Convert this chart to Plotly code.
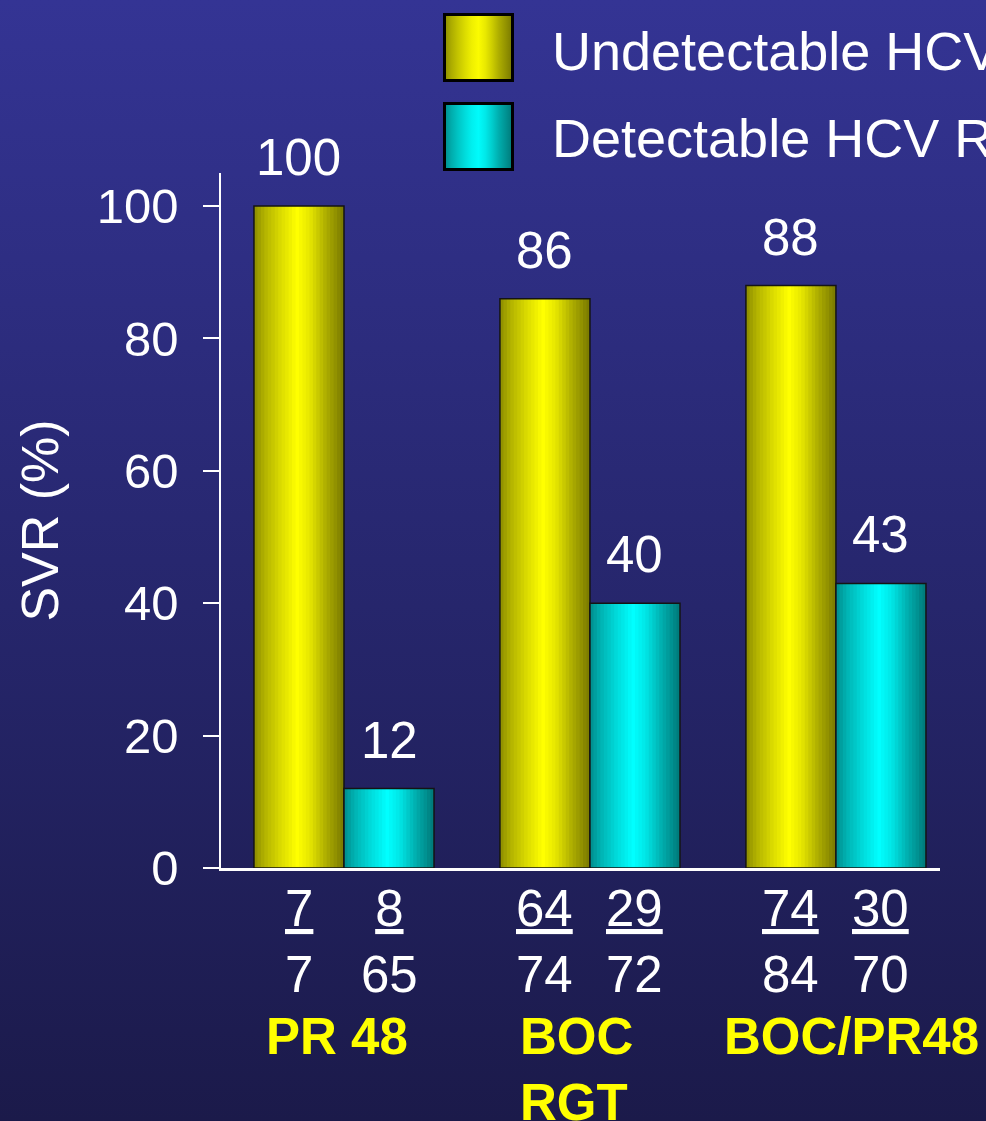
import base64
import numpy as np
import plotly.graph_objects as go

# ---------------- data ----------------
categories = ["PR 48", "BOC RGT", "BOC/PR48"]
group_labels = ["PR 48", "BOC<br>RGT", "BOC/PR48"]
series_names = ["Undetectable HCV RNA", "Detectable HCV RNA"]
svr_undetectable = [100, 86, 88]
svr_detectable = [12, 40, 43]
resp_undetectable = [7, 64, 74]
total_undetectable = [7, 74, 84]
resp_detectable = [8, 29, 30]
total_detectable = [65, 72, 70]
y_ticks = [0, 20, 40, 60, 80, 100]

# ---------------- geometry / style ----------------
W_FIG, H_FIG = 986, 1121
ML, MR, MT, MB = 221, 46, 173, 253
PW = W_FIG - ML - MR
PH = H_FIG - MT - MB
FONT = "Liberation Sans, Arial, sans-serif"
BAR_W = 0.366
N_STRIPS = 26
YMAX = 105


def px_x(px):
    return (px - ML) / PW


def px_y(py):
    return (H_FIG - MB - py) / PH


def shade(rgb, t):
    tp = [0.0, 0.12, 0.3, 0.48, 0.62, 0.8, 1.0]
    fp = [0.55, 0.70, 0.86, 1.0, 0.90, 0.68, 0.47]
    f = float(np.interp(t, tp, fp))
    return "rgb(%d,%d,%d)" % tuple(int(round(c * f)) for c in rgb)


YELLOW = (255, 255, 0)
CYAN = (0, 255, 255)

x_idx = list(range(len(categories)))
fig = go.Figure()

series = [
    (svr_undetectable, YELLOW, -BAR_W),
    (svr_detectable, CYAN, 0.0),
]
for vals, rgb, off0 in series:
    step = BAR_W / N_STRIPS
    for k in range(N_STRIPS):
        t = (k + 0.5) / N_STRIPS
        fig.add_trace(go.Bar(
            x=x_idx, y=vals,
            offset=off0 + k * step,
            width=min(step + 0.004, BAR_W - k * step),
            marker=dict(color=shade(rgb, t), line=dict(width=0)),
            hoverinfo="skip", showlegend=False,
        ))
    # outline
    fig.add_trace(go.Bar(
        x=x_idx, y=vals, offset=off0, width=BAR_W,
        marker=dict(color="rgba(0,0,0,0)", line=dict(color="#141414", width=1.5)),
        hoverinfo="skip", showlegend=False,
    ))

annotations = []
# value labels
for vals, sign in [(svr_undetectable, -1), (svr_detectable, 1)]:
    for i, v in enumerate(vals):
        annotations.append(dict(
            x=i + sign * BAR_W / 2, y=v, xref="x", yref="y",
            text=str(v), showarrow=False, yanchor="bottom", yshift=18,
            font=dict(family=FONT, size=51, color="white"),
        ))
# n / N labels under bars
for resp, tot, sign in [(resp_undetectable, total_undetectable, -1),
                        (resp_detectable, total_detectable, 1)]:
    for i in range(len(categories)):
        annotations.append(dict(
            x=i + sign * BAR_W / 2, y=px_y(941), xref="x", yref="paper",
            text="<u>%d</u><br>%d" % (resp[i], tot[i]), showarrow=False,
            yanchor="middle", align="center",
            font=dict(family=FONT, size=51, color="white"),
        ))
# group labels
grp_pos = [(337, "center"), (518, "left"), (722, "left")]
for lbl, (gx, anc) in zip(group_labels, grp_pos):
    annotations.append(dict(
        x=px_x(gx), y=px_y(1006), xref="paper", yref="paper",
        text="<b>%s</b>" % lbl, showarrow=False, xanchor=anc, yanchor="top",
        align="left", font=dict(family=FONT, size=51, color="#ffff00"),
    ))
# legend text
for name, cy in zip(series_names, [51, 138]):
    annotations.append(dict(
        x=px_x(550), y=px_y(cy), xref="paper", yref="paper",
        text=name, showarrow=False, xanchor="left", yanchor="middle",
        font=dict(family=FONT, size=54, color="white"),
    ))


def svg_uri(svg):
    return "data:image/svg+xml;base64," + base64.b64encode(svg.encode()).decode()


bg_svg = (
    '<svg xmlns="http://www.w3.org/2000/svg" width="986" height="1121" '
    'viewBox="0 0 986 1121" preserveAspectRatio="none">'
    '<defs><linearGradient id="g" x1="0" y1="0" x2="0" y2="1">'
    '<stop offset="0" stop-color="#343494"/>'
    '<stop offset="0.5" stop-color="#27276f"/>'
    '<stop offset="1" stop-color="#1b1a4a"/>'
    '</linearGradient></defs>'
    '<rect width="986" height="1121" fill="url(#g)"/></svg>'
)


def swatch_svg(rgb):
    stops = "".join(
        '<stop offset="%.3f" stop-color="%s"/>' % (t, shade(rgb, t))
        for t in np.linspace(0, 1, 11)
    )
    return (
        '<svg xmlns="http://www.w3.org/2000/svg" width="71" height="69" '
        'viewBox="0 0 71 69" preserveAspectRatio="none">'
        '<defs><linearGradient id="s" x1="0" y1="0" x2="1" y2="0">%s'
        '</linearGradient></defs>'
        '<rect x="1.5" y="1.5" width="68" height="66" fill="url(#s)" '
        'stroke="#000" stroke-width="3"/></svg>' % stops
    )


images = [dict(
    source=svg_uri(bg_svg), xref="paper", yref="paper",
    x=px_x(0), y=px_y(0), sizex=W_FIG / PW, sizey=H_FIG / PH,
    xanchor="left", yanchor="top", sizing="stretch", layer="below",
)]
for rgb, top in [(YELLOW, 13), (CYAN, 102)]:
    images.append(dict(
        source=svg_uri(swatch_svg(rgb)), xref="paper", yref="paper",
        x=px_x(443), y=px_y(top), sizex=71 / PW, sizey=69 / PH,
        xanchor="left", yanchor="top", sizing="stretch", layer="above",
    ))

fig.update_layout(
    width=W_FIG, height=H_FIG, autosize=False,
    margin=dict(l=ML, r=MR, t=MT, b=MB, pad=0),
    barmode="overlay",
    paper_bgcolor="#27276f",
    plot_bgcolor="rgba(0,0,0,0)",
    showlegend=False,
    font=dict(family=FONT, color="white"),
    xaxis=dict(
        range=[-0.5, 2.423], showgrid=False, zeroline=False,
        showticklabels=False, ticks="", showline=True,
        linecolor="white", linewidth=3, fixedrange=True,
    ),
    yaxis=dict(
        range=[0, YMAX], tickvals=y_ticks, showgrid=False, zeroline=False,
        ticks="outside", ticklen=16, tickwidth=1.5, tickcolor="white",
        showline=True, linecolor="white", linewidth=1.5,
        tickfont=dict(family=FONT, size=49, color="white"),
        ticklabelstandoff=15,
        title=dict(text="SVR (%)", font=dict(family=FONT, size=52, color="white"),
                   standoff=21),
        fixedrange=True,
    ),
    annotations=annotations,
    images=images,
)

fig.write_html(
    "out.html",
    config={"displayModeBar": False},
    post_script="document.body.style.margin='0';document.body.style.overflow='hidden';",
)
